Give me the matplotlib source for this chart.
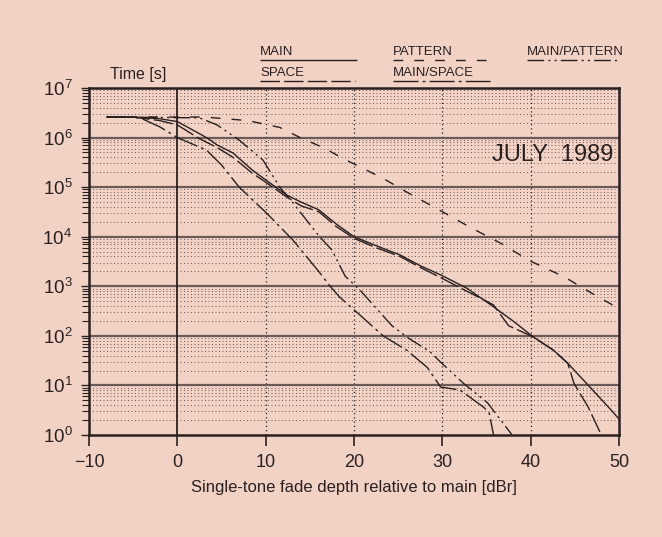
import matplotlib
matplotlib.use("Agg")
import matplotlib.pyplot as plt
from matplotlib.lines import Line2D
from matplotlib.ticker import LogLocator, LogFormatterMathtext, FixedLocator

plt.rcParams['font.family'] = ['Liberation Sans', 'DejaVu Sans']
plt.rcParams['mathtext.fontset'] = 'custom'
plt.rcParams['mathtext.rm'] = 'Liberation Sans'
plt.rcParams['mathtext.default'] = 'regular'

# ---- data ----
series_names = ["MAIN", "SPACE", "PATTERN", "MAIN/SPACE", "MAIN/PATTERN"]

dB_pattern = [-8, 3, 8, 11.6, 13.9, 16.5, 19, 23.3, 26, 30, 33, 36.6, 40, 43.8, 47, 50]
T_pattern = [2.6e6, 2.6e6, 2.2e6, 1.6e6, 1.0e6, 6.3e5, 3.6e5, 1.5e5, 7.9e4, 3.2e4,
             1.6e4, 7.4e3, 3.2e3, 1.55e3, 710, 355]

dB_main = [-8, -5, -2, 0, 2.5, 3.5, 4.5, 6.3, 8.5, 10, 12.4, 14, 16, 18, 20, 22.5,
           25.2, 27.5, 29.8, 32.8, 35.5, 38, 40.3, 42.6, 44.2, 46.8, 49.1, 50]
T_main = [2.6e6, 2.6e6, 2.4e6, 2.1e6, 1.2e6, 9.5e5, 7.1e5, 4.9e5, 2.2e5, 1.4e5,
          6.9e4, 5.0e4, 3.5e4, 1.8e4, 1.0e4, 6.6e3, 4.3e3, 2.6e3, 1.7e3, 910,
          420, 200, 95, 51, 28, 8.9, 3.2, 2.1]

dB_space = [-8, -5, -2, 0, 2.5, 4.5, 6.3, 8.5, 10, 12.4, 14, 16, 18, 20, 22.5,
            25.2, 27.5, 29.8, 32.8, 35, 35.8, 37.5, 40.3, 42.6, 44.2, 44.9, 46.5, 48]
T_space = [2.6e6, 2.6e6, 2.2e6, 1.8e6, 9.5e5, 6.3e5, 4.0e5, 1.9e5, 1.26e5, 6.3e4,
           4.2e4, 3.2e4, 1.6e4, 9.3e3, 6.0e3, 4.0e3, 2.4e3, 1.5e3, 790, 500,
           420, 160, 95, 51, 28, 11, 3.7, 1.0]

dB_main_pattern = [-8, 2.5, 4.5, 7, 9.7, 11.6, 13.1, 16.1, 17.5, 19, 20.7, 22.4,
                   24.3, 26.2, 28.6, 29.6, 32.4, 35.1, 37.9]
T_main_pattern = [2.6e6, 2.5e6, 1.8e6, 8.9e5, 3.5e5, 1.0e5, 4.8e4, 1.0e4, 5.4e3,
                  1.6e3, 830, 380, 160, 89, 48, 32, 11, 4.5, 1.0]

dB_main_space = [-8, -5, -4, -2, 0, 3.3, 5, 7, 10.1, 13.1, 16.1, 17.3, 18.4, 20.7,
                 23.3, 26, 28.3, 29.8, 32, 34.7, 35.3, 35.8]
T_main_space = [2.6e6, 2.6e6, 2.4e6, 1.65e6, 1.0e6, 5.6e5, 2.8e5, 1.0e5, 3.0e4,
                8.5e3, 1.9e3, 1.0e3, 600, 260, 100, 51, 23, 9.3, 8.1, 3.6, 2.8, 1.0]

x_ticks = [-10, 0, 10, 20, 30, 40, 50]

# ---- styling ----
BG = '#F3D2C6'
INK = '#2a2020'
styles = {
    "MAIN": (0, ()),
    "SPACE": (0, (14, 3)),
    "PATTERN": (0, (7, 8)),
    "MAIN/SPACE": (0, (18, 3, 2, 3)),
    "MAIN/PATTERN": (0, (12, 3, 1.5, 3, 1.5, 3)),
}

W, H = 662, 537
fig = plt.figure(figsize=(W / 100, H / 100), dpi=100, facecolor=BG)
ax = fig.add_axes([89 / W, 1 - 435 / H, 530 / W, 347 / H])
ax.set_facecolor(BG)
ax.set_yscale('log')
ax.set_xlim(-10, 50)
ax.set_ylim(1, 1e7)

# grid
for dec in range(0, 7):
    for m in range(2, 10):
        ax.axhline(m * 10 ** dec, color='#6a5856', lw=0.7, ls=(0, (1, 2.6)), zorder=1)
for dec in range(1, 7):
    ax.axhline(10 ** dec, color='#6a5a58', lw=1.6, zorder=1.5)
for xv in [10, 20, 30, 40]:
    ax.axvline(xv, color=INK, lw=0.9, ls=(0, (1, 2.4)), zorder=1)
ax.axvline(0, color=INK, lw=1.3, zorder=1.5)

data = {
    "MAIN": (dB_main, T_main),
    "SPACE": (dB_space, T_space),
    "PATTERN": (dB_pattern, T_pattern),
    "MAIN/SPACE": (dB_main_space, T_main_space),
    "MAIN/PATTERN": (dB_main_pattern, T_main_pattern),
}
for name in series_names:
    xs, ys = data[name]
    ax.plot(xs, ys, color=INK, lw=1.0, ls=styles[name], zorder=3)

for s in ax.spines.values():
    s.set_color(INK)
    s.set_linewidth(1.8)

ax.xaxis.set_major_locator(FixedLocator(x_ticks))
ax.yaxis.set_major_locator(LogLocator(base=10, numticks=10))
ax.yaxis.set_minor_locator(LogLocator(base=10, subs=range(2, 10), numticks=20))
ax.yaxis.set_major_formatter(LogFormatterMathtext())
ax.tick_params(axis='x', direction='out', length=8, width=1.2, colors=INK,
               labelsize=13, pad=6)
ax.tick_params(axis='y', which='major', direction='out', length=6, width=1.0,
               colors=INK, labelsize=13.5, pad=6)
ax.tick_params(axis='y', which='minor', direction='out', length=5, width=0.8,
               colors=INK)

ax.set_xlabel("Single-tone fade depth relative to main [dBr]", fontsize=12,
              color=INK, labelpad=6)

ax.text(0.989, 0.807, "JULY  1989", transform=ax.transAxes, ha='right',
        va='center', fontsize=17, color=INK)

fig.text(110 / W, 1 - 79 / H, "Time [s]", fontsize=11.5, color=INK, va='baseline')

# legend drawn as underlined labels
legend_pos = {
    "MAIN": (260, 55, 357, 60),
    "SPACE": (260, 76, 355, 81),
    "PATTERN": (393, 55, 490, 60),
    "MAIN/SPACE": (393, 76, 490, 81),
    "MAIN/PATTERN": (527, 55, 620, 60),
}
for name in series_names:
    x0, yb, x1, yl = legend_pos[name]
    fig.text(x0 / W, 1 - yb / H, name, fontsize=9.5, color=INK, va='baseline')
    fig.add_artist(Line2D([x0 / W, x1 / W], [1 - yl / H, 1 - yl / H],
                          transform=fig.transFigure, color=INK, lw=1.0,
                          ls=styles[name]))

fig.savefig("out.png", dpi=100, facecolor=BG)
